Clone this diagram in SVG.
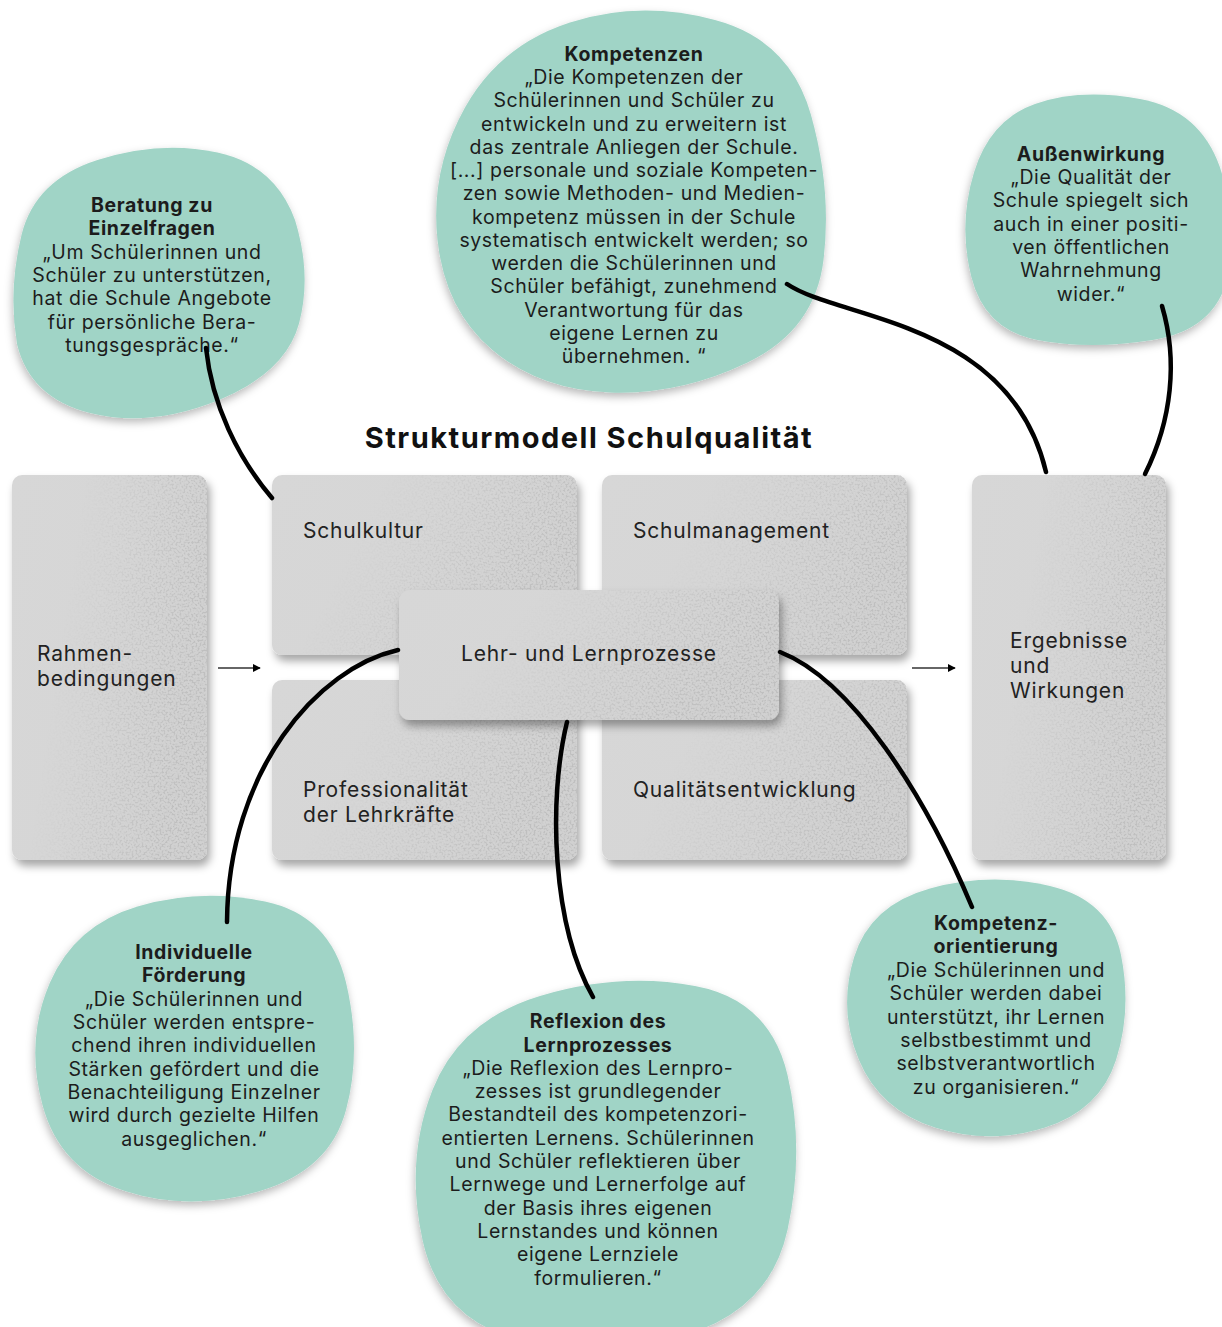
<svg xmlns="http://www.w3.org/2000/svg" width="1222" height="1327" viewBox="0 0 1222 1327">
<style>
.box{fill:url(#boxg)}
.tex{fill:url(#fade)}
.lbl{font-family:Inter,"Noto Sans","DejaVu Sans",sans-serif;font-size:21px;letter-spacing:0.8px;fill:#222}
.blob{fill:#a0d4c6}
.bt{font-family:Inter,"Noto Sans","DejaVu Sans",sans-serif;font-size:19.5px;letter-spacing:0.6px;fill:#1c1c1c;text-anchor:middle}
.bt .h{font-weight:700}
.title{font-family:Inter,"Noto Sans","DejaVu Sans",sans-serif;font-size:29px;letter-spacing:1.5px;font-weight:700;fill:#111;text-anchor:middle}
.conn{fill:none;stroke:#000;stroke-width:4.5;stroke-linecap:round}
.arr{fill:none;stroke:#333;stroke-width:1.5}
</style>
<defs>
<filter id="sh" x="-10%" y="-10%" width="125%" height="125%">
<feDropShadow dx="3" dy="6" stdDeviation="4" flood-color="#000" flood-opacity="0.35"/>
</filter>
<filter id="bsh" x="-10%" y="-10%" width="120%" height="120%">
<feDropShadow dx="-1" dy="4" stdDeviation="4" flood-color="#000" flood-opacity="0.28"/>
</filter>
<filter id="noise" x="0" y="0" width="100%" height="100%" color-interpolation-filters="sRGB">
<feTurbulence type="fractalNoise" baseFrequency="0.5" numOctaves="3" seed="7" result="n"/>
<feColorMatrix in="n" type="matrix" values="0 0 0 0 0.74  0 0 0 0 0.74  0 0 0 0 0.74  5 0 0 0 -2.35" result="dots"/>
<feComposite in="dots" in2="SourceAlpha" operator="in"/>
</filter>
<linearGradient id="boxg" x1="0" y1="0" x2="1" y2="0.4">
<stop offset="0" stop-color="#d7d7d7"/>
<stop offset="0.5" stop-color="#d6d6d6"/>
<stop offset="1" stop-color="#d1d1d1"/>
</linearGradient>
<linearGradient id="fade" x1="0" y1="0" x2="1" y2="0.3">
<stop offset="0.35" stop-color="#fff" stop-opacity="0"/>
<stop offset="1" stop-color="#fff" stop-opacity="0.9"/>
</linearGradient>
<marker id="ah" viewBox="0 0 10 10" refX="9" refY="5" markerWidth="8" markerHeight="8" markerUnits="userSpaceOnUse" orient="auto">
<path d="M0,0 L10,5 L0,10 Z" fill="#000"/>
</marker>
</defs>

<rect width="1222" height="1327" fill="#fff"/>

<text class="title" x="589" y="448">Strukturmodell Schulqualität</text>

<g id="rahmen">
<rect class="box" x="12" y="475" width="195" height="385" rx="10" filter="url(#sh)"/>
<rect class="tex" x="12" y="475" width="195" height="385" rx="10" filter="url(#noise)"/>
<text class="lbl" x="37" y="661">Rahmen-</text>
<text class="lbl" x="37" y="686">bedingungen</text>
</g>
<g id="schulkultur">
<rect class="box" x="272" y="475" width="305" height="180" rx="10" filter="url(#sh)"/>
<rect class="tex" x="272" y="475" width="305" height="180" rx="10" filter="url(#noise)"/>
<text class="lbl" x="303" y="538">Schulkultur</text>
</g>
<g id="schulmanagement">
<rect class="box" x="602" y="475" width="305" height="180" rx="10" filter="url(#sh)"/>
<rect class="tex" x="602" y="475" width="305" height="180" rx="10" filter="url(#noise)"/>
<text class="lbl" x="633" y="538">Schulmanagement</text>
</g>
<g id="professionalitaet">
<rect class="box" x="272" y="680" width="305" height="180" rx="10" filter="url(#sh)"/>
<rect class="tex" x="272" y="680" width="305" height="180" rx="10" filter="url(#noise)"/>
<text class="lbl" x="303" y="797">Professionalität</text>
<text class="lbl" x="303" y="822">der Lehrkräfte</text>
</g>
<g id="qualitaetsentwicklung">
<rect class="box" x="602" y="680" width="305" height="180" rx="10" filter="url(#sh)"/>
<rect class="tex" x="602" y="680" width="305" height="180" rx="10" filter="url(#noise)"/>
<text class="lbl" x="633" y="797">Qualitätsentwicklung</text>
</g>
<g id="ergebnisse">
<rect class="box" x="972" y="475" width="194" height="385" rx="10" filter="url(#sh)"/>
<rect class="tex" x="972" y="475" width="194" height="385" rx="10" filter="url(#noise)"/>
<text class="lbl" x="1010" y="648">Ergebnisse</text>
<text class="lbl" x="1010" y="673">und</text>
<text class="lbl" x="1010" y="698">Wirkungen</text>
</g>
<g id="lehr">
<rect class="box" x="399" y="590" width="380" height="130" rx="11" filter="url(#sh)"/>
<rect class="tex" x="399" y="590" width="380" height="130" rx="11" filter="url(#noise)"/>
<text class="lbl" x="589" y="661" text-anchor="middle">Lehr- und Lernprozesse</text>
</g>

<g id="arrows">
<line class="arr" x1="218" y1="668" x2="260" y2="668" marker-end="url(#ah)"/>
<line class="arr" x1="912" y1="668" x2="955" y2="668" marker-end="url(#ah)"/>
</g>

<g id="blob-beratung">
<path class="blob" filter="url(#bsh)" d="M97.5,160 Q160,140 217.5,152.5 Q275,165 295,220 Q312,275 299,323.5 Q286,372 219,400 Q150,428 90,413 Q30,398 17,344 Q8,290 21.5,235 Q35,180 97.5,160 Z"/>
<text class="bt"><tspan class="h" x="152" y="212">Beratung zu</tspan><tspan class="h" x="152" y="235">Einzelfragen</tspan><tspan x="152" y="259">„Um Schülerinnen und</tspan><tspan x="152" y="282">Schüler zu unterstützen,</tspan><tspan x="152" y="305">hat die Schule Angebote</tspan><tspan x="152" y="329">für persönliche Bera-</tspan><tspan x="152" y="352">tungsgespräche.“</tspan></text>
</g>

<g id="blob-kompetenzen">
<path class="blob" filter="url(#bsh)" d="M570,22.5 Q640,0 715,20 Q790,40 811,115 Q832,190 823.5,260 Q815,330 747.5,362.5 Q680,395 610,392.5 Q540,390 492.5,350 Q445,310 437.5,240 Q430,170 465,107.5 Q500,45 570,22.5 Z"/>
<text class="bt"><tspan class="h" x="634" y="61">Kompetenzen</tspan><tspan x="634" y="84">„Die Kompetenzen der</tspan><tspan x="634" y="107">Schülerinnen und Schüler zu</tspan><tspan x="634" y="131">entwickeln und zu erweitern ist</tspan><tspan x="634" y="154">das zentrale Anliegen der Schule.</tspan><tspan x="634" y="177">[...] personale und soziale Kompeten-</tspan><tspan x="634" y="200">zen sowie Methoden- und Medien-</tspan><tspan x="634" y="224">kompetenz müssen in der Schule</tspan><tspan x="634" y="247">systematisch entwickelt werden; so</tspan><tspan x="634" y="270">werden die Schülerinnen und</tspan><tspan x="634" y="293">Schüler befähigt, zunehmend</tspan><tspan x="634" y="317">Verantwortung für das</tspan><tspan x="634" y="340">eigene Lernen zu</tspan><tspan x="634" y="363">übernehmen. “</tspan></text>
</g>

<g id="blob-aussenwirkung">
<path class="blob" filter="url(#bsh)" d="M1035,104 Q1080,88 1140,99 Q1200,110 1220,167.5 Q1240,225 1227.5,277.5 Q1215,330 1152.5,340 Q1090,350 1037.5,340 Q985,330 971.5,277.5 Q958,225 974,172.5 Q990,120 1035,104 Z"/>
<text class="bt"><tspan class="h" x="1091" y="161">Außenwirkung</tspan><tspan x="1091" y="184">„Die Qualität der</tspan><tspan x="1091" y="207">Schule spiegelt sich</tspan><tspan x="1091" y="231">auch in einer positi-</tspan><tspan x="1091" y="254">ven öffentlichen</tspan><tspan x="1091" y="277">Wahrnehmung</tspan><tspan x="1091" y="301">wider.“</tspan></text>
</g>

<g id="blob-foerderung">
<path class="blob" filter="url(#bsh)" d="M137.5,906.5 Q200,888 265,901.5 Q330,915 346,982.5 Q362,1050 346,1110 Q330,1170 260,1191 Q190,1212 125,1191 Q60,1170 42.5,1105 Q25,1040 50,982.5 Q75,925 137.5,906.5 Z"/>
<text class="bt"><tspan class="h" x="194" y="959">Individuelle</tspan><tspan class="h" x="194" y="982">Förderung</tspan><tspan x="194" y="1006">„Die Schülerinnen und</tspan><tspan x="194" y="1029">Schüler werden entspre-</tspan><tspan x="194" y="1052">chend ihren individuellen</tspan><tspan x="194" y="1076">Stärken gefördert und die</tspan><tspan x="194" y="1099">Benachteiligung Einzelner</tspan><tspan x="194" y="1122">wird durch gezielte Hilfen</tspan><tspan x="194" y="1146">ausgeglichen.“</tspan></text>
</g>

<g id="blob-reflexion">
<path class="blob" filter="url(#bsh)" d="M540,996 Q620,972 695,986 Q770,1000 787.5,1075 Q805,1150 787.5,1230 Q770,1310 685,1335 Q600,1360 520,1340 Q440,1320 422.5,1240 Q405,1160 432.5,1090 Q460,1020 540,996 Z"/>
<text class="bt"><tspan class="h" x="598" y="1028">Reflexion des</tspan><tspan class="h" x="598" y="1052">Lernprozesses</tspan><tspan x="598" y="1075">„Die Reflexion des Lernpro-</tspan><tspan x="598" y="1098">zesses ist grundlegender</tspan><tspan x="598" y="1121">Bestandteil des kompetenzori-</tspan><tspan x="598" y="1145">entierten Lernens. Schülerinnen</tspan><tspan x="598" y="1168">und Schüler reflektieren über</tspan><tspan x="598" y="1191">Lernwege und Lernerfolge auf</tspan><tspan x="598" y="1215">der Basis ihres eigenen</tspan><tspan x="598" y="1238">Lernstandes und können</tspan><tspan x="598" y="1261">eigene Lernziele</tspan><tspan x="598" y="1285">formulieren.“</tspan></text>
</g>

<g id="blob-kompetenzorientierung">
<path class="blob" filter="url(#bsh)" d="M930,888.5 Q990,872 1050,886 Q1110,900 1121,955 Q1132,1010 1116,1060 Q1100,1110 1045,1127.5 Q990,1145 935,1127.5 Q880,1110 859,1060 Q838,1010 854,957.5 Q870,905 930,888.5 Z"/>
<text class="bt"><tspan class="h" x="996" y="930">Kompetenz-</tspan><tspan class="h" x="996" y="953">orientierung</tspan><tspan x="996" y="977">„Die Schülerinnen und</tspan><tspan x="996" y="1000">Schüler werden dabei</tspan><tspan x="996" y="1024">unterstützt, ihr Lernen</tspan><tspan x="996" y="1047">selbstbestimmt und</tspan><tspan x="996" y="1070">selbstverantwortlich</tspan><tspan x="996" y="1094">zu organisieren.“</tspan></text>
</g>

<g id="connectors">
<path class="conn" d="M206,348 C212,405 238,458 272,498"/>
<path class="conn" d="M787,284 C840,320 1010,320 1046,472"/>
<path class="conn" d="M1162,306 C1178,360 1172,420 1145,474"/>
<path class="conn" d="M398,650 C318,668 228,770 227,922"/>
<path class="conn" d="M567,722 C548,800 552,925 593,997"/>
<path class="conn" d="M780,652 C852,680 925,795 972,907"/>
</g>
</svg>
